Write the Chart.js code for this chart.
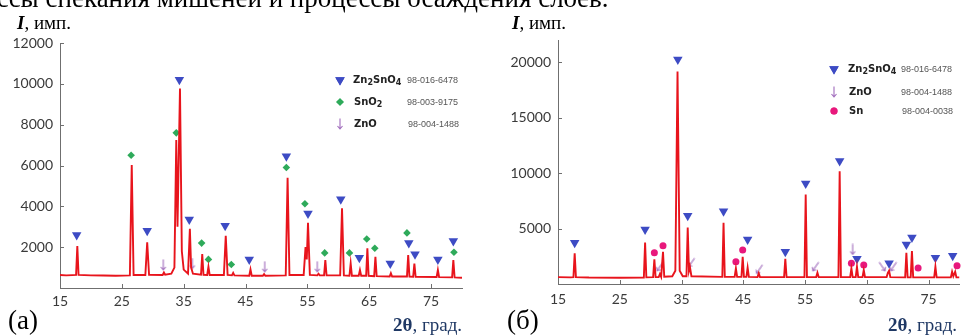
<!DOCTYPE html>
<html>
<head>
<meta charset="utf-8">
<script src="https://cdn.jsdelivr.net/npm/chart.js@4"></script>
<style>
  body { margin: 0; background: #fff; width: 965px; height: 336px; overflow: hidden; position: relative; }
  canvas { position: absolute; top: 0; }
  .txt { position: absolute; white-space: nowrap; line-height: 1; color: #000; }
  .serif { font-family: "Liberation Serif", "Times New Roman", serif; }
  .leg { position: absolute; white-space: nowrap; line-height: 12px; font-family: "DejaVu Sans", Verdana, sans-serif; font-weight: bold; font-size: 10px; color: #222; }
  .leg sub { font-size: 8px; vertical-align: -2px; line-height: 0; }
  .code { position: absolute; white-space: nowrap; line-height: 12px; font-family: "Liberation Sans", Arial, sans-serif; font-size: 9px; color: #555; }
  .ax2t { color: #1f3864; }
</style>
</head>
<body>
<canvas id="chartA" width="470" height="336" style="left:0px"></canvas>
<canvas id="chartB" width="485" height="336" style="left:480px"></canvas>

<div class="txt serif" style="left:-16px; top:-15px; font-size:27px;">ессы спекания мишеней и процессы осаждения слоёв.</div>

<div class="txt serif" style="left:17px; top:13px; font-size:19px;"><b><i>I</i></b>, имп.</div>
<div class="txt serif" style="left:512px; top:13px; font-size:19px;"><b><i>I</i></b>, имп.</div>
<div class="txt serif" style="left:8px; top:307px; font-size:27px;">(a)</div>
<div class="txt serif" style="left:507px; top:307px; font-size:27px;">(б)</div>
<div class="txt serif ax2t" style="left:393px; top:315px; font-size:19px;"><b>2θ</b>, град.</div>
<div class="txt serif ax2t" style="left:888px; top:315px; font-size:19px;"><b>2θ</b>, град.</div>

<div class="leg" style="left:353px; top:74px;">Zn<sub>2</sub>SnO<sub>4</sub></div>
<div class="code" style="left:407px; top:74px;">98-016-6478</div>
<div class="leg" style="left:354px; top:96px;">SnO<sub>2</sub></div>
<div class="code" style="left:407px; top:96px;">98-003-9175</div>
<div class="leg" style="left:354px; top:118px;">ZnO</div>
<div class="code" style="left:408px; top:118px;">98-004-1488</div>

<div class="leg" style="left:848px; top:63px;">Zn<sub>2</sub>SnO<sub>4</sub></div>
<div class="code" style="left:901px; top:63px;">98-016-6478</div>
<div class="leg" style="left:849px; top:86px;">ZnO</div>
<div class="code" style="left:901px; top:86px;">98-004-1488</div>
<div class="leg" style="left:849px; top:105px;">Sn</div>
<div class="code" style="left:902px; top:105px;">98-004-0038</div>

<script>
// ---- panel (a): diffractogram ----
const scanA_2theta = [15, 16, 17, 17.6, 17.8, 18.0, 20, 22, 24, 26.3, 26.6, 26.9, 28.8, 29.1, 29.4,
  31.6, 31.8, 32.0, 33.0, 33.5, 33.8, 34.0, 34.4, 34.7, 35.0, 35.7, 36.0, 36.2, 36.5, 37.8, 38.0, 38.2,
  38.8, 39.0, 39.2, 41.5, 41.8, 42.1, 42.8, 43.0, 43.2, 45.6, 45.8, 46.0, 47.8, 48.0, 48.2, 51.5, 51.8,
  52.1, 54.4, 54.7, 54.9, 55.1, 55.4, 56.6, 56.8, 57.0, 57.7, 57.9, 58.1, 60.3, 60.6, 60.9, 61.8, 62.0,
  62.2, 63.3, 63.5, 63.7, 64.5, 64.7, 64.9, 65.8, 66.0, 66.2, 68.3, 68.5, 68.7, 71.1, 71.3, 71.5, 72.1,
  72.3, 72.5, 75.9, 76.1, 76.3, 78.4, 78.6, 78.8, 80];
const scanA_counts = [640, 620, 630, 640, 2050, 640, 620, 610, 600, 620, 6020, 640, 640, 2240, 650,
  640, 760, 650, 700, 1000, 7250, 3000, 9770, 1800, 900, 700, 2900, 1000, 700, 650, 1660, 650,
  640, 1040, 640, 640, 2560, 640, 620, 740, 620, 600, 910, 600, 600, 680, 600, 620, 5400,
  640, 640, 2000, 1400, 3200, 640, 620, 700, 620, 620, 1370, 620, 620, 3900, 620, 600, 1200,
  600, 600, 880, 600, 600, 1940, 600, 580, 1530, 580, 560, 720, 560, 560, 1610, 560, 550,
  1200, 550, 540, 880, 530, 520, 1370, 520, 500];

const zsoA_x = [17.7, 29.1, 34.3, 35.9, 41.7, 45.6, 51.6, 55.1, 60.4, 63.4, 68.4, 71.4, 72.4, 76.1, 78.6];
const zsoA_y = [2600, 2800, 10200, 3350, 3050, 1400, 6450, 3650, 4350, 1480, 1200, 2200, 1650, 1400, 2300];
const sno2A_x = [26.5, 33.8, 37.9, 39.0, 42.7, 51.6, 54.6, 57.8, 61.8, 64.6, 65.9, 71.1, 78.7];
const sno2A_y = [6500, 7600, 2200, 1400, 1150, 5900, 4130, 1720, 1720, 2400, 1950, 2700, 1750];
const znoA_x = [31.7, 36.4, 48.1, 56.6];
const znoA_y = [1130, 1200, 1040, 1040];

// ---- panel (б) ----
const scanB_2theta = [15, 17, 17.5, 17.7, 17.9, 20, 25, 28.9, 29.1, 29.3, 30.4, 30.6, 30.8, 31.3, 31.5,
  31.7, 31.8, 32.0, 32.2, 33.5, 34.0, 34.35, 34.7, 35.2, 35.8, 36.0, 36.2, 36.35, 36.6, 41.6, 41.8, 42.0,
  43.6, 43.8, 44.0, 44.7, 44.9, 45.1, 45.5, 45.7, 45.9, 47.3, 47.5, 47.7, 51.6, 51.8, 52.0, 54.9, 55.1,
  55.3, 56.8, 57.0, 57.2, 60.4, 60.6, 60.8, 62.3, 62.5, 62.7, 63.2, 63.4, 63.6, 64.3, 64.5, 64.7, 68.2,
  68.4, 68.6, 68.8, 71.2, 71.4, 71.6, 72.1, 72.3, 72.5, 75.9, 76.1, 76.3, 78.6, 78.8, 79.0, 79.3, 79.5, 80];
const scanB_counts = [620, 600, 620, 2760, 620, 580, 560, 580, 3750, 600, 620, 2220, 620, 620, 900,
  640, 640, 2900, 650, 700, 1200, 19160, 1200, 700, 700, 5100, 1200, 1560, 700, 640, 5520, 640,
  640, 1410, 640, 640, 2460, 640, 640, 1470, 640, 620, 960, 620, 620, 2280, 620, 620, 8070,
  620, 620, 1020, 620, 620, 10160, 620, 620, 1410, 620, 620, 1560, 620, 620, 1260, 620, 620,
  1000, 1200, 620, 600, 2820, 600, 600, 2970, 600, 600, 1560, 600, 600, 1110, 700, 1110, 600, 600];

const zsoB_x = [17.7, 29.1, 34.4, 36.0, 41.8, 45.7, 51.8, 55.1, 60.6, 63.4, 68.6, 71.4, 72.3, 76.1, 78.9];
const zsoB_y = [3720, 4920, 20240, 6150, 6570, 4020, 2910, 9060, 11090, 2280, 1860, 3570, 4200, 2370, 2550];
const snB_x = [30.6, 32.0, 43.8, 44.9, 62.5, 64.5, 73.3, 79.6];
const snB_y = [2820, 3450, 2010, 3060, 1860, 1710, 1440, 1650];
const znoB_x = [31.5, 36.6, 47.6, 56.7, 62.7, 67.5, 69.3];
const znoB_y = [1560, 1920, 1320, 1560, 3120, 1560, 1560];
const znoB_tilt = [35, 35, 35, 35, 0, -35, 35];

const xTicks = [15, 25, 35, 45, 55, 65, 75];
const yTicksA = [2000, 4000, 6000, 8000, 10000, 12000];
const yTicksB = [5000, 10000, 15000, 20000];

const RED = '#e8141c';
const BLUE = '#3d4bc4';
const GREEN = '#2eaa5a';
const PINK = '#e8187c';
const PURPLE = '#a06cbc';

function zip(xs, ys) { return xs.map((x, i) => ({ x: x, y: ys[i] })); }

// small down arrow used for ZnO
function makeArrow() {
    const c = document.createElement('canvas');
    c.width = 8; c.height = 12;
    const g = c.getContext('2d');
    g.strokeStyle = PURPLE;
    g.lineWidth = 1.1;
    g.beginPath();
    g.moveTo(4, 0.5); g.lineTo(4, 11);
    g.moveTo(1.5, 8); g.lineTo(4, 11); g.lineTo(6.5, 8);
    g.stroke();
    return c;
}
const arrowImg = makeArrow();

const styles = {
    tri: { pointStyle: 'triangle', rotation: 180, radius: 5.5, backgroundColor: BLUE },
    dia: { pointStyle: 'rectRot', rotation: 0, radius: 3.8, backgroundColor: GREEN },
    dot: { pointStyle: 'circle', rotation: 0, radius: 3.5, backgroundColor: PINK },
    arr: { pointStyle: arrowImg, rotation: 0, radius: 5, backgroundColor: PURPLE }
};

function markerSet(xs, ys, st, rot) {
    return {
        type: 'scatter',
        data: zip(xs, ys),
        pointStyle: st.pointStyle,
        pointRotation: rot || st.rotation,
        pointRadius: st.radius,
        pointBackgroundColor: st.backgroundColor,
        pointBorderColor: st.backgroundColor,
        pointBorderWidth: 0,
        showLine: false,
        clip: false
    };
}

// inward tick marks + legend symbols
const panelExtras = {
    id: 'panelExtras',
    afterDraw(chart, args, opts) {
        const ctx = chart.ctx;
        const xs = chart.scales.x, ys = chart.scales.y;
        const a = chart.chartArea;
        ctx.save();
        ctx.strokeStyle = '#6f6f6f';
        ctx.lineWidth = 1;
        ctx.beginPath();
        xTicks.forEach(v => {
            const px = Math.round(xs.getPixelForValue(v)) + 0.5;
            ctx.moveTo(px, a.bottom); ctx.lineTo(px, a.bottom - 4);
        });
        opts.yTicks.forEach(v => {
            const py = Math.round(ys.getPixelForValue(v)) + 0.5;
            ctx.moveTo(a.left, py); ctx.lineTo(a.left + 4, py);
        });
        ctx.stroke();
        opts.legend.forEach(item => {
            const st = styles[item.style];
            const o = { pointStyle: st.pointStyle, rotation: st.rotation, radius: st.radius, borderWidth: 0 };
            ctx.fillStyle = st.backgroundColor;
            ctx.beginPath();
            Chart.helpers.drawPoint(ctx, o, item.x, item.y);
            if (st.pointStyle !== arrowImg) ctx.fill();
        });
        ctx.restore();
    }
};

Chart.defaults.font.family = 'Lato, "Liberation Sans", sans-serif';
Chart.defaults.font.size = 14;
Chart.defaults.color = '#3a3a3a';

function makePanel(id, cfg) {
    const ctx = document.getElementById(id).getContext('2d');
    return new Chart(ctx, {
        type: 'line',
        data: {
            datasets: [{
                data: zip(cfg.scanX, cfg.scanY),
                borderColor: RED,
                borderWidth: 1.9,
                pointRadius: 0,
                tension: 0,
                fill: false
            }].concat(cfg.markers)
        },
        options: {
            responsive: false,
            devicePixelRatio: 1,
            animation: false,
            layout: { padding: cfg.padding },
            plugins: {
                legend: { display: false },
                tooltip: { enabled: false },
                panelExtras: { yTicks: cfg.yTicks, legend: cfg.legend }
            },
            scales: {
                x: {
                    type: 'linear',
                    min: 15, max: 80,
                    afterBuildTicks: s => { s.ticks = xTicks.map(v => ({ value: v })); },
                    afterFit: s => { s.height = cfg.xHeight; },
                    grid: { display: false, drawTicks: false },
                    border: { display: true, color: '#6f6f6f', width: 1 },
                    ticks: { padding: cfg.xPad, maxRotation: 0, autoSkip: false, callback: v => String(v) }
                },
                y: {
                    type: 'linear',
                    min: 0, max: cfg.yMax,
                    afterBuildTicks: s => { s.ticks = cfg.yTicks.map(v => ({ value: v })); },
                    afterFit: s => { s.width = cfg.yWidth; },
                    grid: { display: false, drawTicks: false },
                    border: { display: true, color: '#6f6f6f', width: 1 },
                    ticks: { padding: 7, autoSkip: false, callback: v => String(v) }
                }
            }
        },
        plugins: [panelExtras]
    });
}

makePanel('chartA', {
    scanX: scanA_2theta, scanY: scanA_counts,
    yMax: 12000, yTicks: yTicksA,
    padding: { top: 43, right: 8, left: 0, bottom: 0 },
    xHeight: 48, yWidth: 60, xPad: 5,
    markers: [
        markerSet(zsoA_x, zsoA_y, styles.tri),
        markerSet(sno2A_x, sno2A_y, styles.dia),
        markerSet(znoA_x, znoA_y, styles.arr)
    ],
    legend: [
        { style: 'tri', x: 340, y: 80 },
        { style: 'dia', x: 340, y: 102 },
        { style: 'arr', x: 340, y: 124 }
    ]
});

makePanel('chartB', {
    scanX: scanB_2theta, scanY: scanB_counts,
    yMax: 22000, yTicks: yTicksB,
    padding: { top: 40, right: 5, left: 0, bottom: 0 },
    xHeight: 52, yWidth: 78, xPad: 7,
    markers: [
        markerSet(zsoB_x, zsoB_y, styles.tri),
        markerSet(znoB_x, znoB_y, styles.arr, znoB_tilt),
        markerSet(snB_x, snB_y, styles.dot)
    ],
    legend: [
        { style: 'tri', x: 354, y: 69 },
        { style: 'arr', x: 354, y: 92 },
        { style: 'dot', x: 354, y: 111 }
    ]
});
</script>
</body>
</html>
